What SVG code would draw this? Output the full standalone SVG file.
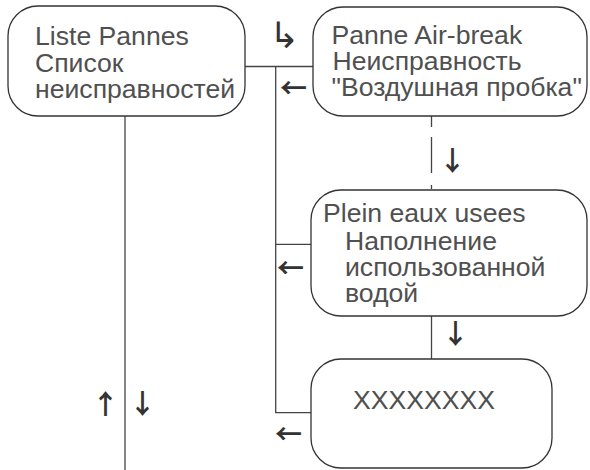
<svg xmlns="http://www.w3.org/2000/svg" width="590" height="470" viewBox="0 0 590 470">
<style>
.box{fill:#fff;stroke:#333;stroke-width:1.3}
.t{font-family:"Liberation Sans",Arial,sans-serif;font-size:26.6px;fill:#505050}
.a{font-family:"Noto Sans CJK JP","DejaVu Sans",sans-serif;font-size:27px;font-weight:bold;fill:#333}
.h{font-family:"DejaVu Sans",sans-serif;font-size:36px;fill:#333}
.c{fill:none;stroke:#444;stroke-width:1.3}
</style>
<rect width="590" height="470" fill="#fff"/>
<g id="connectors">
<path class="c" d="M245 66.5H313M275.7 66.5V412.7H311M275.7 244.3H311"/>
<path class="c" d="M125 116V470"/>
<path class="c" d="M431.5 116V189" stroke-dasharray="11 10 36 12"/>
<path class="c" d="M431.5 316V359"/>
<text class="h" x="269" y="48">↳</text>
<text class="a" x="280" y="98">←</text>
<text class="a" x="439" y="171">↓</text>
<text class="a" x="277" y="278">←</text>
<text class="a" x="442" y="344">↓</text>
<text class="a" x="275" y="444">←</text>
<text class="a" x="92" y="414">↑</text>
<text class="a" x="129" y="414">↓</text>
</g>
<g id="n1">
<rect class="box" x="8" y="6" width="237" height="110" rx="30"/>
<text class="t" x="35" y="45">Liste Pannes</text>
<text class="t" x="35" y="71.5">Список</text>
<text class="t" x="35" y="98">неисправностей</text>
</g>
<g id="n2">
<rect class="box" x="313" y="7" width="274" height="109" rx="30"/>
<text class="t" x="331.5" y="43.5">Panne Air-break</text>
<text class="t" x="332.5" y="70">Неисправность</text>
<text class="t" x="331.5" y="96">"Воздушная пробка"</text>
</g>
<g id="n3">
<rect class="box" x="311" y="190" width="276" height="126" rx="30"/>
<text class="t" x="323" y="222">Plein eaux usees</text>
<text class="t" x="345" y="250">Наполнение</text>
<text class="t" x="345" y="276">использованной</text>
<text class="t" x="345" y="302">водой</text>
</g>
<g id="n4">
<rect class="box" x="311" y="359" width="241" height="109" rx="30"/>
<text class="t" x="353" y="409">XXXXXXXX</text>
</g>
</svg>
